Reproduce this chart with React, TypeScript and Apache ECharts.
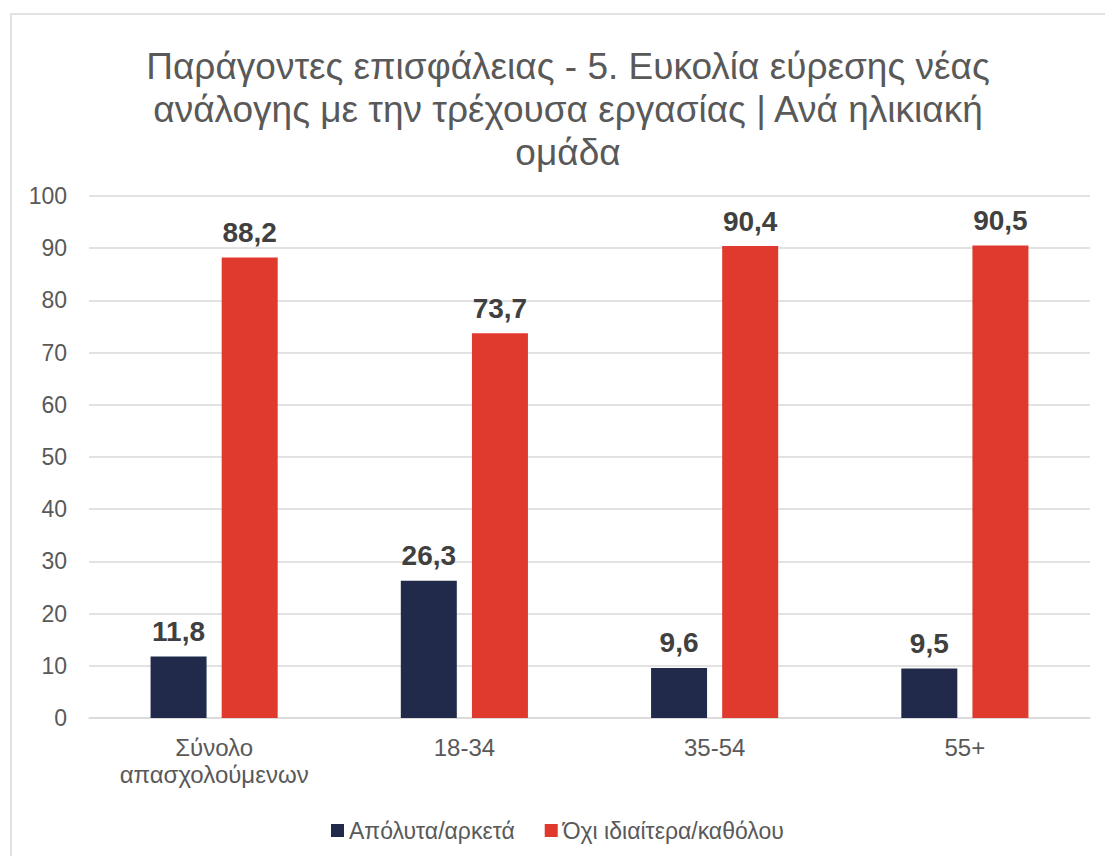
import React, { useEffect, useRef } from "react";
import * as echarts from "echarts";

const categories = ["Σύνολο\nαπασχολούμενων", "18-34", "35-54", "55+"];
const seriesNames = ["Απόλυτα/αρκετά", "Όχι ιδιαίτερα/καθόλου"];
const absolutely = [11.8, 26.3, 9.6, 9.5];
const notReally = [88.2, 73.7, 90.4, 90.5];
const yTicks = { min: 0, max: 100, interval: 10 };
const titleText =
  "Παράγοντες επισφάλειας - 5. Ευκολία εύρεσης νέας\nανάλογης με την τρέχουσα εργασίας | Ανά ηλικιακή\nομάδα";

const FONT = "'Liberation Sans', Arial, sans-serif";

export default function App() {
  const ref = useRef<HTMLDivElement>(null);
  useEffect(() => {
    if (!ref.current) return;
    const chart = echarts.init(ref.current, undefined, { renderer: "svg" });
    const label = {
      show: true,
      position: "top",
      distance: 11,
      fontSize: 28,
      fontWeight: "bold",
      color: "#404040",
      fontFamily: FONT,
      formatter: (p: any) => String(p.value).replace(".", ","),
    };
    chart.setOption({
      animation: false,
      backgroundColor: "#ffffff",
      title: {
        text: titleText,
        left: 563,
        textAlign: "center",
        top: 40,
        textStyle: {
          fontSize: 37,
          lineHeight: 43,
          fontWeight: "normal",
          color: "#595959",
          fontFamily: FONT,
        },
      },
      graphic: [
        {
          type: "rect",
          shape: { x: 11, y: 14, width: 1200, height: 900 },
          style: { fill: "none", stroke: "#d9d9d9", lineWidth: 1.5 },
          silent: true,
        },
      ],
      legend: {
        data: seriesNames,
        left: 326,
        top: 814,
        itemWidth: 13,
        itemHeight: 13,
        itemGap: 30,
        icon: "rect",
        textStyle: { fontSize: 23, color: "#595959", fontFamily: FONT },
      },
      grid: { left: 89, right: 15, top: 196, bottom: 138, containLabel: false },
      xAxis: {
        type: "category",
        data: categories,
        axisTick: { show: false },
        axisLine: { lineStyle: { color: "#d9d9d9", width: 1.5 } },
        axisLabel: {
          fontSize: 24,
          lineHeight: 27,
          color: "#595959",
          fontFamily: FONT,
          margin: 16,
          interval: 0,
        },
      },
      yAxis: {
        type: "value",
        min: yTicks.min,
        max: yTicks.max,
        interval: yTicks.interval,
        axisLine: { show: false },
        axisTick: { show: false },
        splitLine: { lineStyle: { color: "#d9d9d9", width: 1.5 } },
        axisLabel: { fontSize: 23, color: "#595959", fontFamily: FONT, margin: 22 },
      },
      series: [
        {
          name: seriesNames[0],
          type: "bar",
          data: absolutely,
          barWidth: 56,
          barGap: "27%",
          itemStyle: { color: "#212a4a" },
          label,
        },
        {
          name: seriesNames[1],
          type: "bar",
          data: notReally,
          barWidth: 56,
          barGap: "27%",
          itemStyle: { color: "#e0392e" },
          label,
        },
      ],
    });
    return () => chart.dispose();
  }, []);
  return (
    <div
      ref={ref}
      style={{ position: "fixed", left: 0, top: 0, width: 1105, height: 856 }}
    />
  );
}
